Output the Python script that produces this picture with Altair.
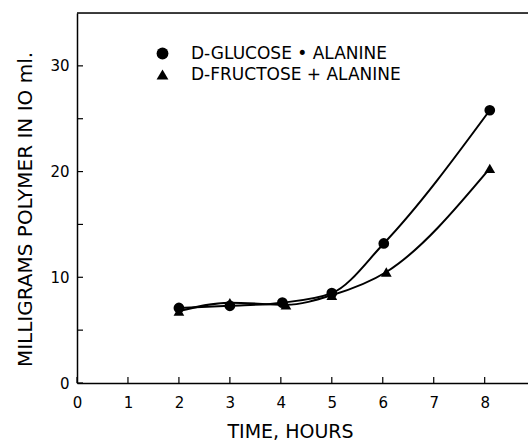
import altair as alt
import pandas as pd

series_names = ["D-GLUCOSE • ALANINE", "D-FRUCTOSE + ALANINE"]
glucose_x = [2, 3, 4.03, 5, 6.02, 8.1]
glucose_y = [7.1, 7.3, 7.6, 8.5, 13.2, 25.8]
fructose_x = [2, 3, 4.1, 5, 6.07, 8.1]
fructose_y = [6.8, 7.6, 7.4, 8.3, 10.5, 20.3]
x_ticks = [0, 1, 2, 3, 4, 5, 6, 7, 8]
y_ticks = [0, 5, 10, 15, 20, 25, 30]
y_labels = [0, 10, 20, 30]

rows = []
for x, y in zip(glucose_x, glucose_y):
    rows.append({"t": x, "mg": y, "series": series_names[0]})
for x, y in zip(fructose_x, fructose_y):
    rows.append({"t": x, "mg": y, "series": series_names[1]})
df = pd.DataFrame(rows)

W, H = 451, 370
FONT = "DejaVu Sans"

xs = alt.Scale(domain=[0, 8.85], nice=False)
ys = alt.Scale(domain=[0, 35], nice=False)

xaxis = alt.Axis(values=x_ticks, ticks=False, grid=False, domainColor="black",
                 domainWidth=1.5, labelFontSize=15, labelColor="black", labelFont=FONT,
                 labelPadding=12, title="TIME, HOURS", titleFont=FONT, titleFontSize=19,
                 titleFontWeight="normal", titleColor="black", titlePadding=12,
                 titleX=213, labelFlush=False)
yaxis = alt.Axis(values=y_labels, ticks=False, grid=False, domainColor="black",
                 domainWidth=1.5, labelFontSize=15, labelColor="black", labelFont=FONT,
                 labelPadding=8, title="MILLIGRAMS POLYMER IN IO ml.", titleFont=FONT,
                 titleFontSize=20, titleFontWeight="normal", titleColor="black",
                 titlePadding=14, titleY=196, labelFlush=False)

base = alt.Chart(df)

lines = base.mark_line(color="black", strokeWidth=2, interpolate="monotone").encode(
    x=alt.X("t:Q", scale=xs, axis=xaxis),
    y=alt.Y("mg:Q", scale=ys, axis=yaxis),
    detail="series:N",
)

points = base.mark_point(filled=True, color="black", opacity=1).encode(
    x=alt.X("t:Q", scale=xs),
    y=alt.Y("mg:Q", scale=ys),
    shape=alt.Shape("series:N", scale=alt.Scale(domain=series_names, range=["circle", "triangle-up"]),
                    legend=alt.Legend(title=None, orient="none", legendX=77, legendY=32,
                                      labelFontSize=17, labelFont=FONT, labelColor="black",
                                      labelLimit=0,
                                      symbolSize=140, symbolFillColor="black", symbolStrokeColor="black",
                                      labelOffset=20, rowPadding=2, padding=0)),
    size=alt.value(115),
)

xt = pd.DataFrame({"v": x_ticks})
yt = pd.DataFrame({"v": y_ticks})
xtick_marks = alt.Chart(xt).mark_rule(color="black", strokeWidth=1.2).encode(
    x=alt.X("v:Q", scale=xs), y=alt.value(H), y2=alt.value(H - 6))
ytick_marks = alt.Chart(yt).mark_rule(color="black", strokeWidth=1.2).encode(
    y=alt.Y("v:Q", scale=ys), x=alt.value(0), x2=alt.value(6))
top = alt.Chart(pd.DataFrame({"a": [0]})).mark_rule(color="black", strokeWidth=1.5).encode(
    x=alt.value(0), x2=alt.value(W + 2), y=alt.value(0))

chart = alt.layer(lines, points, xtick_marks, ytick_marks, top).properties(
    width=W, height=H,
    autosize=alt.AutoSizeParams(type="none"),
    padding={"left": 77, "top": 13, "right": 0, "bottom": 62},
).configure_view(stroke=None).configure(background="white")

chart.save("out.html", embed_options={"renderer": "svg", "actions": False})
